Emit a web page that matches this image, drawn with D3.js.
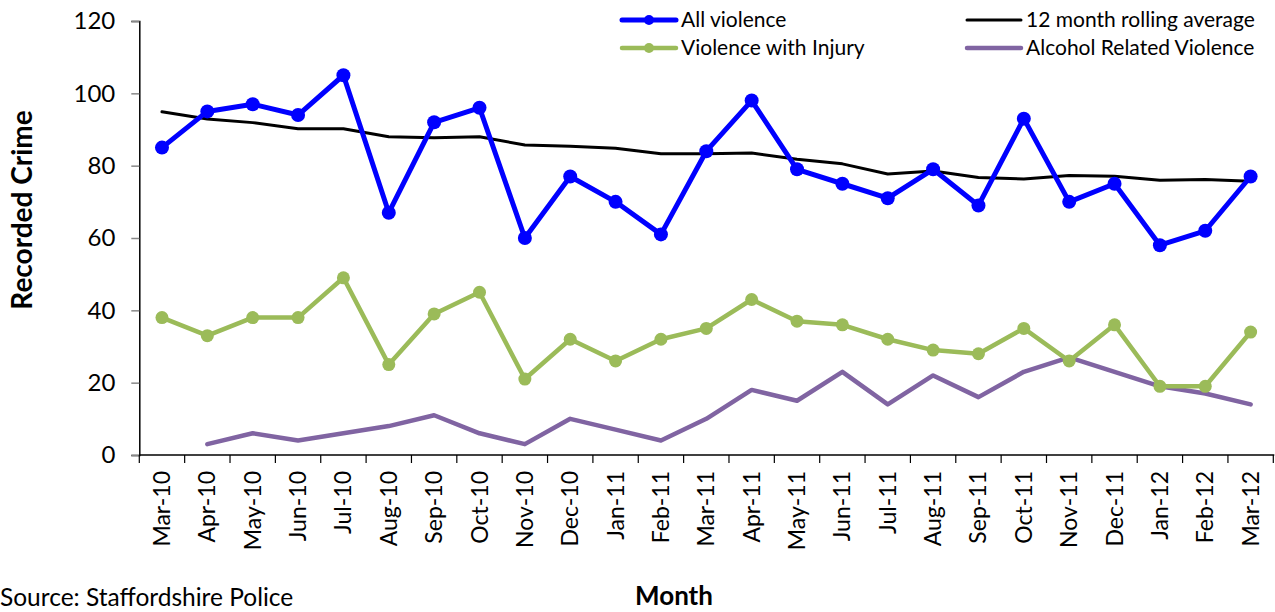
<!DOCTYPE html>
<html>
<head>
<meta charset="utf-8">
<script src="https://cdn.jsdelivr.net/npm/d3@7"></script>
<style>
  html, body { margin: 0; padding: 0; background: #fff; }
  svg { display: block; font-family: Lato, "Open Sans", sans-serif; }
</style>
</head>
<body>
<svg id="chart" width="1275" height="612"></svg>
<script>
// Monthly recorded violent crime, Mar 2010 – Mar 2012
const months = ["Mar-10","Apr-10","May-10","Jun-10","Jul-10","Aug-10","Sep-10","Oct-10","Nov-10","Dec-10",
                "Jan-11","Feb-11","Mar-11","Apr-11","May-11","Jun-11","Jul-11","Aug-11","Sep-11","Oct-11",
                "Nov-11","Dec-11","Jan-12","Feb-12","Mar-12"];
const allViolence = [85,95,97,94,105,67,92,96,60,77,70,61,84,98,79,75,71,79,69,93,70,75,58,62,77];
const violenceWithInjury = [38,33,38,38,49,25,39,45,21,32,26,32,35,43,37,36,32,29,28,35,26,36,19,19,34];
const rollingAverage = [94.9,92.9,91.9,90.2,90.2,88.0,87.7,88.0,85.7,85.4,84.8,83.3,83.3,83.5,81.8,80.5,77.7,78.5,76.7,76.3,77.3,77.1,76.0,76.2,75.7];
const alcoholRelated = [null,3,6,4,6,8,11,6,3,10,7,4,10,18,15,23,14,22,16,23,27,23,19,17,14];
const yTicks = [0,20,40,60,80,100,120];

const svg = d3.select("#chart");
const plotLeft = 139.3, plotRight = 1273.3, plotTop = 21, plotBottom = 455;

const x = d3.scaleBand().domain(months).range([plotLeft, plotRight]);
const cx = m => x(m) + x.bandwidth() / 2;
const y = d3.scaleLinear().domain([0, 120]).range([plotBottom, plotTop]);

// Y axis
const yAxis = svg.append("g").attr("transform", `translate(${plotLeft},0)`)
  .call(d3.axisLeft(y).tickValues(yTicks).tickSize(8).tickPadding(16).tickFormat(d3.format("d")));
yAxis.select(".domain").attr("stroke", "#000").attr("stroke-width", 1.5);
yAxis.selectAll(".tick line").attr("stroke", "#888").attr("stroke-width", 1.5);
yAxis.selectAll(".tick text").attr("font-size", 24).attr("fill", "#000")
  .attr("font-family", "Lato, sans-serif");

// X axis with boundary ticks between months
const xAxis = svg.append("g").attr("transform", `translate(0,${plotBottom})`);
xAxis.append("line").attr("x1", plotLeft).attr("x2", plotRight + 1).attr("y1", 0).attr("y2", 0)
  .attr("stroke", "#000").attr("stroke-width", 1.5);
const boundaries = months.map(m => x(m)).concat([plotRight]);
xAxis.selectAll("line.tk").data(boundaries).join("line").attr("class", "tk")
  .attr("x1", d => d).attr("x2", d => d).attr("y1", 0).attr("y2", 8)
  .attr("stroke", "#000").attr("stroke-width", 1.2);
xAxis.selectAll("text.lbl").data(months).join("text").attr("class", "lbl")
  .attr("transform", d => `translate(${cx(d) + 8},${16}) rotate(-90)`)
  .attr("text-anchor", "end")
  .attr("font-size", 23)
  .attr("fill", "#000")
  .text(d => d);

// Series
const lineGen = d3.line().defined(d => d.v != null).x(d => cx(d.m)).y(d => y(d.v));
const series = [
  { name: "Alcohol Related Violence", values: alcoholRelated, color: "#8064A2", width: 4.5, r: 0 },
  { name: "Violence with Injury", values: violenceWithInjury, color: "#9BBB59", width: 4.5, r: 6.5 },
  { name: "12 month rolling average", values: rollingAverage, color: "#000000", width: 3, r: 0 },
  { name: "All violence", values: allViolence, color: "#0000FF", width: 5, r: 7 }
];
series.forEach(s => {
  const pts = months.map((m, i) => ({ m, v: s.values[i] }));
  svg.append("path").datum(pts)
    .attr("fill", "none").attr("stroke", s.color).attr("stroke-width", s.width)
    .attr("stroke-linejoin", "round").attr("stroke-linecap", "round")
    .attr("d", lineGen);
  if (s.r > 0) {
    svg.append("g").selectAll("circle").data(pts.filter(d => d.v != null)).join("circle")
      .attr("cx", d => cx(d.m)).attr("cy", d => y(d.v)).attr("r", s.r).attr("fill", s.color);
  }
});

// Legend
const legendItems = [
  { name: "All violence", color: "#0000FF", width: 5, r: 5, lx: 622, ly: 20 },
  { name: "Violence with Injury", color: "#9BBB59", width: 4.5, r: 5, lx: 622, ly: 48 },
  { name: "12 month rolling average", color: "#000000", width: 3, r: 0, lx: 967, ly: 20 },
  { name: "Alcohol Related Violence", color: "#8064A2", width: 4.5, r: 0, lx: 967, ly: 48 }
];
const lg = svg.append("g");
legendItems.forEach(d => {
  lg.append("line").attr("x1", d.lx).attr("x2", d.lx + 54).attr("y1", d.ly).attr("y2", d.ly)
    .attr("stroke", d.color).attr("stroke-width", d.width).attr("stroke-linecap", "round");
  if (d.r > 0) lg.append("circle").attr("cx", d.lx + 27).attr("cy", d.ly).attr("r", d.r).attr("fill", d.color);
  lg.append("text").attr("x", d.lx + 59).attr("y", d.ly).attr("dy", "0.35em")
    .attr("font-size", 21).attr("fill", "#000").text(d.name);
});

// Axis titles and source
svg.append("text").attr("transform", "translate(32,210) rotate(-90)")
  .attr("text-anchor", "middle").attr("font-size", 28).attr("font-weight", "bold").text("Recorded Crime");
svg.append("text").attr("x", 674).attr("y", 605)
  .attr("text-anchor", "middle").attr("font-size", 26).attr("font-weight", "bold").text("Month");
svg.append("text").attr("x", 0).attr("y", 606)
  .attr("font-size", 24.5).attr("fill", "#000").text("Source: Staffordshire Police");
</script>
</body>
</html>
